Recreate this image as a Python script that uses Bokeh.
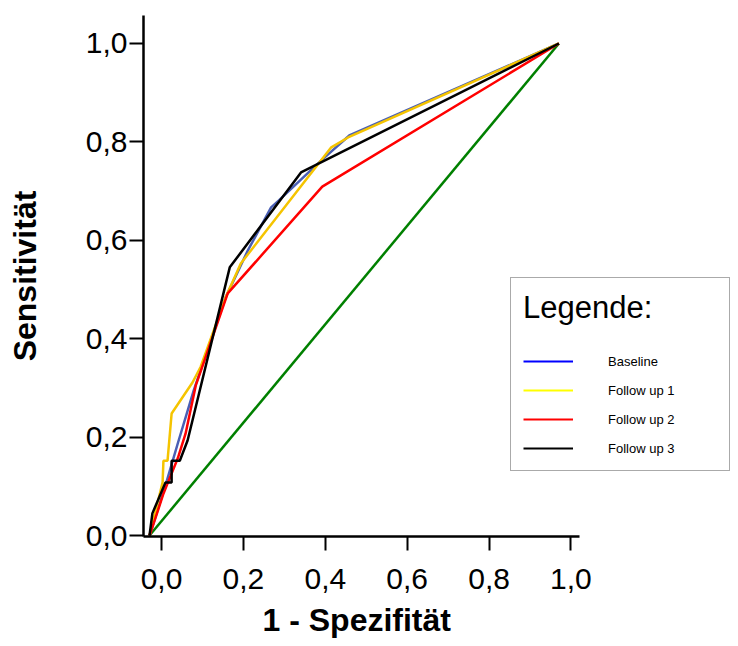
import numpy as np
from bokeh.plotting import figure
from bokeh.models import Range1d, LinearAxis, FixedTicker, Legend, LegendItem, CustomJSTickFormatter, Title
from bokeh.embed import file_html
from bokeh.resources import INLINE

# ---- data ----
diag_x = [0.0, 1.0]
diag_y = [0.0, 1.0]

baseline_x = [0.0, 0.039, 0.069, 0.108, 0.186, 0.240, 0.297, 0.316, 0.419, 0.488, 1.0]
baseline_y = [0.0, 0.102, 0.187, 0.295, 0.484, 0.579, 0.667, 0.681, 0.762, 0.813, 1.0]

follow1_x = [0.0, 0.032, 0.034, 0.044, 0.054, 0.105, 0.125, 0.186, 0.223, 0.444, 0.485, 1.0]
follow1_y = [0.0, 0.108, 0.152, 0.152, 0.248, 0.311, 0.343, 0.484, 0.553, 0.789, 0.809, 1.0]

follow2_x = [0.0, 0.010, 0.034, 0.047, 0.069, 0.088, 0.113, 0.191, 0.422, 1.0]
follow2_y = [0.0, 0.024, 0.085, 0.112, 0.157, 0.207, 0.305, 0.492, 0.709, 1.0]

follow3_x = [0.0, 0.007, 0.039, 0.054, 0.054, 0.074, 0.093, 0.196, 0.370, 1.0]
follow3_y = [0.0, 0.045, 0.108, 0.108, 0.152, 0.152, 0.193, 0.545, 0.738, 1.0]

series_names = ["Baseline", "Follow up 1", "Follow up 2", "Follow up 3"]
line_colors = ["#4a5fb5", "#f5c400", "#ff0000", "#000000"]
legend_colors = ["#0000ff", "#ffff00", "#ff0000", "#000000"]
diag_color = "#008000"

tick_values = [0.0, 0.2, 0.4, 0.6, 0.8, 1.0]
x_title = "1 - Spezifität"
y_title = "Sensitivität"
legend_title = "Legende:"

FONT = "Liberation Sans"

p = figure(width=738, height=646,
           x_range=Range1d(-0.0147, 1.4387), y_range=Range1d(-0.002, 1.0569),
           output_backend="svg", toolbar_location=None, x_axis_location=None,
           min_border_left=143, min_border_right=0, min_border_top=15, min_border_bottom=110)
p.extra_x_ranges = {"ax": Range1d(-0.0441, 1.4093)}
p.xgrid.visible = False
p.ygrid.visible = False
p.outline_line_color = None
p.background_fill_color = "white"

xaxis = LinearAxis(x_range_name="ax", bounds=(-0.0441, 1.0221))
p.add_layout(xaxis, "below")
yaxis = p.yaxis[0]

fmt = CustomJSTickFormatter(code="return tick.toFixed(1).replace('.', ',');")
for ax, standoff in [(xaxis, 18), (yaxis, 2)]:
    ax.ticker = FixedTicker(ticks=tick_values, minor_ticks=[])
    ax.formatter = fmt
    ax.axis_line_width = 2.5
    ax.axis_line_color = "black"
    ax.major_tick_line_width = 2
    ax.major_tick_line_color = "black"
    ax.major_tick_out = 14
    ax.major_tick_in = 0
    ax.minor_tick_line_color = None
    ax.major_label_text_font = FONT
    ax.major_label_text_font_size = "30px"
    ax.major_label_text_color = "black"
    ax.major_label_standoff = standoff

yaxis.axis_label = y_title
yaxis.axis_label_text_font = FONT
yaxis.axis_label_text_font_size = "32px"
yaxis.axis_label_text_font_style = "bold"
yaxis.axis_label_text_color = "black"
yaxis.axis_label_standoff = 40

# x-axis title, placed under the axis and aligned as in the reference
x_label = Title(text=x_title, align="left", offset=119, standoff=16,
                text_font=FONT, text_font_size="32px", text_font_style="bold", text_color="black")
p.add_layout(x_label, "below")

p.line(diag_x, diag_y, line_color=diag_color, line_width=2.5)
series = [(baseline_x, baseline_y), (follow1_x, follow1_y), (follow2_x, follow2_y), (follow3_x, follow3_y)]
for (xs, ys), c in zip(series, line_colors):
    p.line(xs, ys, line_color=c, line_width=2.5)

items = []
for name, c in zip(series_names, legend_colors):
    r = p.line(x=np.array([np.nan]), y=np.array([np.nan]), line_color=c, line_width=2)
    items.append(LegendItem(label=name, renderers=[r]))

legend = Legend(items=items, location=(367, 65), title=legend_title,
                title_text_font=FONT, title_text_font_size="31px", title_text_font_style="normal",
                title_text_color="black", title_standoff=25,
                label_text_font=FONT, label_text_font_size="13px", label_text_color="black",
                glyph_width=50, glyph_height=20, label_height=20, label_width=109,
                label_standoff=35, spacing=9, padding=12, margin=0,
                border_line_color="#555555", border_line_width=1,
                background_fill_color="white", background_fill_alpha=1.0)
p.add_layout(legend)

open("out.html", "w").write(file_html(p, INLINE))
